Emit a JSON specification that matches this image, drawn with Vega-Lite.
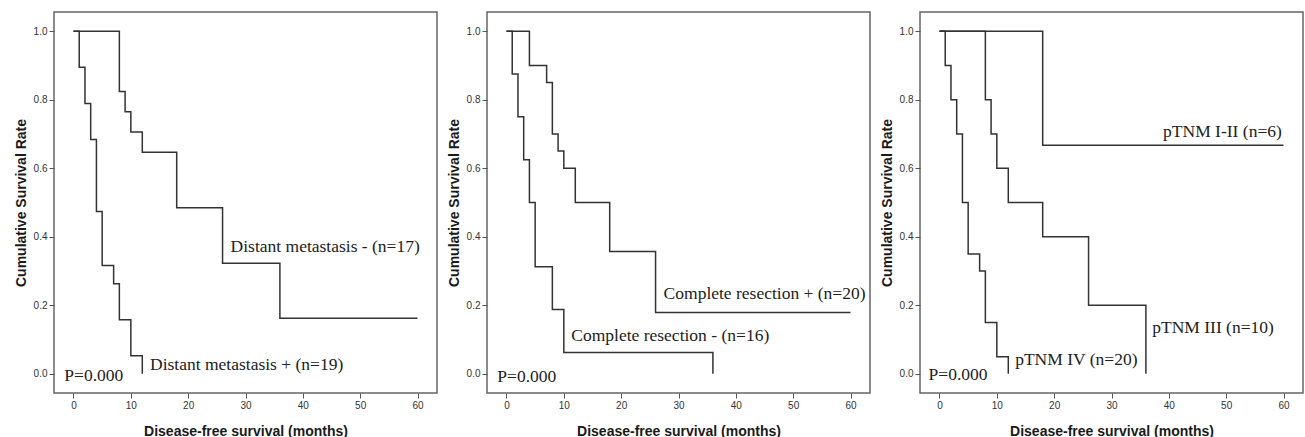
{
  "$schema": "https://vega.github.io/schema/vega-lite/v6.json",
  "padding": {"left": 13, "top": 11, "right": 0, "bottom": 0},
  "background": "white",
  "spacing": 8,
  "datasets": {
    "km": [
      {"panel": 1, "group": "DM-", "t": 0, "s": 1},
      {"panel": 1, "group": "DM-", "t": 8, "s": 0.824},
      {"panel": 1, "group": "DM-", "t": 9, "s": 0.765},
      {"panel": 1, "group": "DM-", "t": 10, "s": 0.706},
      {"panel": 1, "group": "DM-", "t": 12, "s": 0.647},
      {"panel": 1, "group": "DM-", "t": 18, "s": 0.485},
      {"panel": 1, "group": "DM-", "t": 26, "s": 0.323},
      {"panel": 1, "group": "DM-", "t": 36, "s": 0.162},
      {"panel": 1, "group": "DM-", "t": 60, "s": 0.162},
      {"panel": 1, "group": "DM+", "t": 0, "s": 1},
      {"panel": 1, "group": "DM+", "t": 1, "s": 0.895},
      {"panel": 1, "group": "DM+", "t": 2, "s": 0.789},
      {"panel": 1, "group": "DM+", "t": 3, "s": 0.684},
      {"panel": 1, "group": "DM+", "t": 4, "s": 0.474},
      {"panel": 1, "group": "DM+", "t": 5, "s": 0.316},
      {"panel": 1, "group": "DM+", "t": 7, "s": 0.263},
      {"panel": 1, "group": "DM+", "t": 8, "s": 0.158},
      {"panel": 1, "group": "DM+", "t": 10, "s": 0.053},
      {"panel": 1, "group": "DM+", "t": 12, "s": 0},
      {"panel": 2, "group": "CR+", "t": 0, "s": 1},
      {"panel": 2, "group": "CR+", "t": 4, "s": 0.9},
      {"panel": 2, "group": "CR+", "t": 7, "s": 0.85},
      {"panel": 2, "group": "CR+", "t": 8, "s": 0.7},
      {"panel": 2, "group": "CR+", "t": 9, "s": 0.65},
      {"panel": 2, "group": "CR+", "t": 10, "s": 0.6},
      {"panel": 2, "group": "CR+", "t": 12, "s": 0.5},
      {"panel": 2, "group": "CR+", "t": 18, "s": 0.357},
      {"panel": 2, "group": "CR+", "t": 26, "s": 0.179},
      {"panel": 2, "group": "CR+", "t": 60, "s": 0.179},
      {"panel": 2, "group": "CR-", "t": 0, "s": 1},
      {"panel": 2, "group": "CR-", "t": 1, "s": 0.875},
      {"panel": 2, "group": "CR-", "t": 2, "s": 0.75},
      {"panel": 2, "group": "CR-", "t": 3, "s": 0.625},
      {"panel": 2, "group": "CR-", "t": 4, "s": 0.5},
      {"panel": 2, "group": "CR-", "t": 5, "s": 0.3125},
      {"panel": 2, "group": "CR-", "t": 8, "s": 0.1875},
      {"panel": 2, "group": "CR-", "t": 10, "s": 0.0625},
      {"panel": 2, "group": "CR-", "t": 36, "s": 0},
      {"panel": 3, "group": "I-II", "t": 0, "s": 1},
      {"panel": 3, "group": "I-II", "t": 18, "s": 0.667},
      {"panel": 3, "group": "I-II", "t": 60, "s": 0.667},
      {"panel": 3, "group": "III", "t": 0, "s": 1},
      {"panel": 3, "group": "III", "t": 8, "s": 0.8},
      {"panel": 3, "group": "III", "t": 9, "s": 0.7},
      {"panel": 3, "group": "III", "t": 10, "s": 0.6},
      {"panel": 3, "group": "III", "t": 12, "s": 0.5},
      {"panel": 3, "group": "III", "t": 18, "s": 0.4},
      {"panel": 3, "group": "III", "t": 26, "s": 0.2},
      {"panel": 3, "group": "III", "t": 36, "s": 0},
      {"panel": 3, "group": "IV", "t": 0, "s": 1},
      {"panel": 3, "group": "IV", "t": 1, "s": 0.9},
      {"panel": 3, "group": "IV", "t": 2, "s": 0.8},
      {"panel": 3, "group": "IV", "t": 3, "s": 0.7},
      {"panel": 3, "group": "IV", "t": 4, "s": 0.5},
      {"panel": 3, "group": "IV", "t": 5, "s": 0.35},
      {"panel": 3, "group": "IV", "t": 7, "s": 0.3},
      {"panel": 3, "group": "IV", "t": 8, "s": 0.15},
      {"panel": 3, "group": "IV", "t": 10, "s": 0.05},
      {"panel": 3, "group": "IV", "t": 12, "s": 0}
    ],
    "labels": [
      {"panel": 1, "t": 27.4, "s": 0.37, "label": "Distant metastasis - (n=17)"},
      {"panel": 1, "t": 13.35, "s": 0.026, "label": "Distant metastasis + (n=19)"},
      {"panel": 1, "t": -1.6, "s": -0.006, "label": "P=0.000"},
      {"panel": 2, "t": 27.4, "s": 0.234, "label": "Complete resection + (n=20)"},
      {"panel": 2, "t": 11.3, "s": 0.109, "label": "Complete resection - (n=16)"},
      {"panel": 2, "t": -1.6, "s": -0.01, "label": "P=0.000"},
      {"panel": 3, "t": 39.0, "s": 0.706, "label": "pTNM I-II (n=6)"},
      {"panel": 3, "t": 37.1, "s": 0.133, "label": "pTNM III (n=10)"},
      {"panel": 3, "t": 13.2, "s": 0.041, "label": "pTNM IV (n=20)"},
      {"panel": 3, "t": -1.9, "s": -0.003, "label": "P=0.000"}
    ]
  },
  "hconcat": [
    {
      "width": 383, "height": 381,
      "layer": [
        {
          "data": {"name": "km"},
          "transform": [{"filter": "datum.panel == 1"}],
          "mark": {"type": "line", "interpolate": "step-after", "color": "#333", "strokeWidth": 1.5},
          "encoding": {
            "x": {"field": "t", "type": "quantitative", "scale": {"domain": [-3.4, 63.4], "nice": false, "zero": false}, "axis": {"title": "Disease-free survival (months)", "values": [0, 10, 20, 30, 40, 50, 60]}},
            "y": {"field": "s", "type": "quantitative", "scale": {"domain": [-0.056, 1.056], "nice": false, "zero": false}, "axis": {"title": "Cumulative Survival Rate", "values": [0, 0.2, 0.4, 0.6, 0.8, 1.0], "format": ".1f"}},
            "detail": {"field": "group"}
          }
        },
        {
          "data": {"name": "labels"},
          "transform": [{"filter": "datum.panel == 1"}],
          "mark": {"type": "text", "align": "left", "baseline": "middle", "font": "Liberation Serif", "fontSize": 17.5, "color": "#222"},
          "encoding": {
            "x": {"field": "t", "type": "quantitative"},
            "y": {"field": "s", "type": "quantitative"},
            "text": {"field": "label"}
          }
        }
      ]
    },
    {
      "width": 383, "height": 381,
      "layer": [
        {
          "data": {"name": "km"},
          "transform": [{"filter": "datum.panel == 2"}],
          "mark": {"type": "line", "interpolate": "step-after", "color": "#333", "strokeWidth": 1.5},
          "encoding": {
            "x": {"field": "t", "type": "quantitative", "scale": {"domain": [-3.4, 63.4], "nice": false, "zero": false}, "axis": {"title": "Disease-free survival (months)", "values": [0, 10, 20, 30, 40, 50, 60]}},
            "y": {"field": "s", "type": "quantitative", "scale": {"domain": [-0.056, 1.056], "nice": false, "zero": false}, "axis": {"title": "Cumulative Survival Rate", "values": [0, 0.2, 0.4, 0.6, 0.8, 1.0], "format": ".1f"}},
            "detail": {"field": "group"}
          }
        },
        {
          "data": {"name": "labels"},
          "transform": [{"filter": "datum.panel == 2"}],
          "mark": {"type": "text", "align": "left", "baseline": "middle", "font": "Liberation Serif", "fontSize": 17.5, "color": "#222"},
          "encoding": {
            "x": {"field": "t", "type": "quantitative"},
            "y": {"field": "s", "type": "quantitative"},
            "text": {"field": "label"}
          }
        }
      ]
    },
    {
      "width": 383, "height": 381,
      "layer": [
        {
          "data": {"name": "km"},
          "transform": [{"filter": "datum.panel == 3"}],
          "mark": {"type": "line", "interpolate": "step-after", "color": "#333", "strokeWidth": 1.5},
          "encoding": {
            "x": {"field": "t", "type": "quantitative", "scale": {"domain": [-3.4, 63.4], "nice": false, "zero": false}, "axis": {"title": "Disease-free survival (months)", "values": [0, 10, 20, 30, 40, 50, 60]}},
            "y": {"field": "s", "type": "quantitative", "scale": {"domain": [-0.056, 1.056], "nice": false, "zero": false}, "axis": {"title": "Cumulative Survival Rate", "values": [0, 0.2, 0.4, 0.6, 0.8, 1.0], "format": ".1f"}},
            "detail": {"field": "group"}
          }
        },
        {
          "data": {"name": "labels"},
          "transform": [{"filter": "datum.panel == 3"}],
          "mark": {"type": "text", "align": "left", "baseline": "middle", "font": "Liberation Serif", "fontSize": 17.5, "color": "#222"},
          "encoding": {
            "x": {"field": "t", "type": "quantitative"},
            "y": {"field": "s", "type": "quantitative"},
            "text": {"field": "label"}
          }
        }
      ]
    }
  ],
  "config": {
    "view": {"stroke": "#666", "strokeWidth": 1.5},
    "axis": {
      "domain": false,
      "grid": false,
      "ticks": true,
      "tickColor": "#555",
      "tickSize": 5,
      "labelFont": "Liberation Sans",
      "labelFontSize": 10,
      "labelColor": "#333",
      "labelPadding": 2,
      "titleFont": "Liberation Sans",
      "titleFontSize": 14,
      "titleFontWeight": "bold",
      "titleColor": "#1a1a1a"
    },
    "axisY": {"titlePadding": 5},
    "axisX": {"titlePadding": 14}
  }
}
